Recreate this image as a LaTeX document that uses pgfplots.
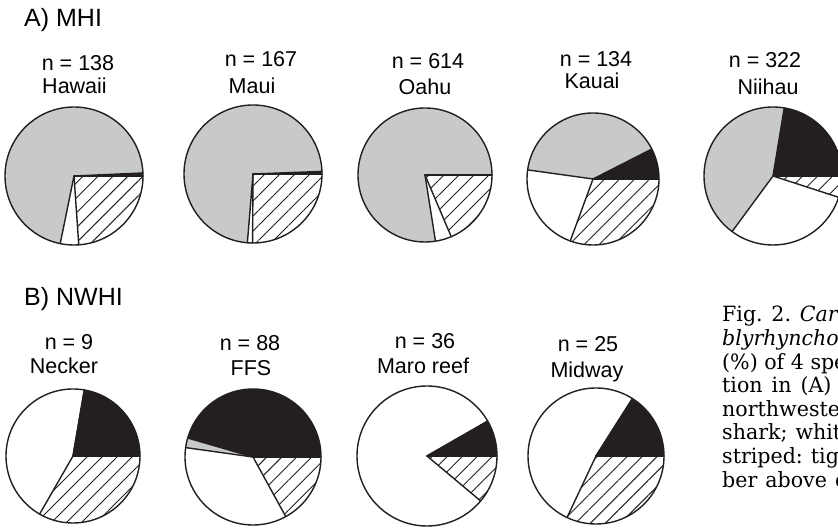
\documentclass[border=0pt]{standalone}
\usepackage{pgfplots}
\pgfplotsset{compat=1.18}
\usepackage{pgfplotstable}
\usetikzlibrary{patterns.meta}
\usepackage{fontspec}
\setmainfont{Liberation Sans}
\newfontfamily\capfont[FakeStretch=0.98]{DejaVu Serif}
\definecolor{piegray}{HTML}{C8C9CB}
\definecolor{pieblack}{HTML}{231F20}

% percentages per island: hatched = tiger, white, gray = grey reef, black
\pgfplotstableread{
name cx cy r hatched white gray black
Hawaii 74 353 69 23.9 4.3 71.1 0.7
Maui 253 355 69 25.1 1.2 73.1 0.6
Oahu 425 354 67 18.6 3.9 77.5 0.0
Kauai 593 350 66 30.6 21.6 40.3 7.5
Niihau 773 353 69 5.0 30.1 42.5 22.4
Necker 73 73 67 33.3 44.4 0.0 22.3
FFS 253 72 68 17.0 35.2 2.3 45.5
Maro 427 73 70 11.1 80.6 0.0 8.3
Midway 596 73 68 32.0 52.0 0.0 16.0
}\piedata

\newcommand\pieslice[6]{%
  \path[#6] (axis cs:#1,#2) -- ++(#4:#3pt) arc[start angle=#4, end angle=#5, radius=#3pt] -- cycle;}

\begin{document}
\begin{tikzpicture}
\useasboundingbox (0,0) rectangle (838pt,529pt);
\clip (0,0) rectangle (838pt,529pt);
\begin{axis}[at={(0,0)}, anchor=south west, width=838pt, height=529pt,
  scale only axis, xmin=0, xmax=838, ymin=0, ymax=529, hide axis, clip=false]
\pgfplotsextra{%
  \pgfplotstablegetrowsof{\piedata}%
  \pgfmathtruncatemacro\lastrow{\pgfplotsretval-1}%
  \foreach \i in {0,...,\lastrow}{%
    \pgfplotstablegetelem{\i}{cx}\of\piedata \edef\pcx{\pgfplotsretval}%
    \pgfplotstablegetelem{\i}{cy}\of\piedata \edef\pcy{\pgfplotsretval}%
    \pgfplotstablegetelem{\i}{r}\of\piedata \edef\prad{\pgfplotsretval}%
    \pgfplotstablegetelem{\i}{hatched}\of\piedata \edef\ph{\pgfplotsretval}%
    \pgfplotstablegetelem{\i}{white}\of\piedata \edef\pw{\pgfplotsretval}%
    \pgfplotstablegetelem{\i}{gray}\of\piedata \edef\pg{\pgfplotsretval}%
    \pgfmathsetmacro\aA{-3.6*\ph}%
    \pgfmathsetmacro\aB{\aA-3.6*\pw}%
    \pgfmathsetmacro\aC{\aB-3.6*\pg}%
    \pieslice{\pcx}{\pcy}{\prad}{0}{\aA}{fill=white}%
    \pieslice{\pcx}{\pcy}{\prad}{0}{\aA}{pattern={Lines[angle=45,distance=10.6pt,line width=0.9pt]},pattern color=pieblack}%
    \pieslice{\pcx}{\pcy}{\prad}{\aA}{\aB}{fill=white}%
    \pieslice{\pcx}{\pcy}{\prad}{\aB}{\aC}{fill=piegray}%
    \pieslice{\pcx}{\pcy}{\prad}{\aC}{-360}{fill=pieblack}%
    \foreach \ang in {0,\aA,\aB,\aC}{%
      \draw[pieblack, line width=1.4pt, line cap=round] (axis cs:\pcx,\pcy) -- ++(\ang:\prad pt);}%
    \draw[pieblack, line width=1.4pt] (axis cs:\pcx,\pcy) circle[radius=\prad pt];%
  }%
}
% headers
\node[anchor=base west, inner sep=0, font=\fontsize{25}{28}\selectfont] at (axis cs:24,502) {A) MHI};
\node[anchor=base west, inner sep=0, font=\fontsize{25}{28}\selectfont] at (axis cs:24,223) {B) NWHI};
% labels row A
\begin{scope}[every node/.style={anchor=base, inner sep=0, font=\fontsize{21.5}{24}\selectfont}]
\node at (axis cs:78,458) {n = 138};
\node at (axis cs:74.5,435) {Hawaii};
\node at (axis cs:261,462) {n = 167};
\node at (axis cs:252,435) {Maui};
\node at (axis cs:428,460) {n = 614};
\node at (axis cs:425,434) {Oahu};
\node at (axis cs:596,462) {n = 134};
\node at (axis cs:592,440) {Kauai};
\node at (axis cs:765,461) {n = 322};
\node at (axis cs:768,434) {Niihau};
% labels row B
\node at (axis cs:69,179) {n = 9};
\node at (axis cs:64,155) {Necker};
\node at (axis cs:250,178) {n = 88};
\node at (axis cs:251,153) {FFS};
\node at (axis cs:425,180) {n = 36};
\node at (axis cs:423,155) {Maro reef};
\node at (axis cs:588,177) {n = 25};
\node at (axis cs:587,151) {Midway};
\end{scope}
% caption (cut at the right edge, as in the reference)
\begin{scope}[every node/.style={anchor=base west, inner sep=0, font=\capfont\fontsize{21}{24}\selectfont}]
\node at (axis cs:722,207) {Fig. 2. \textit{Carcharhinus am-}};
\node at (axis cs:722,183.4) {\textit{blyrhynchos}. Percentage};
\node at (axis cs:722,159.8) {(\%) of 4 species composi-};
\node at (axis cs:722,136.2) {tion\hspace{9pt}in\hspace{9pt}(A)\hspace{9pt}the main and (B)};
\node at (axis cs:722,112.6) {northwestern Hawaiian Is.};
\node at (axis cs:722,89) {shark;\hspace{8pt}white: Galapagos};
\node at (axis cs:722,65.4) {striped:\hspace{8pt}tiger shark. Num-};
\node at (axis cs:722,41.8) {ber\hspace{8pt}above\hspace{8pt}each pie chart};
\end{scope}
\end{axis}
\end{tikzpicture}
\end{document}
